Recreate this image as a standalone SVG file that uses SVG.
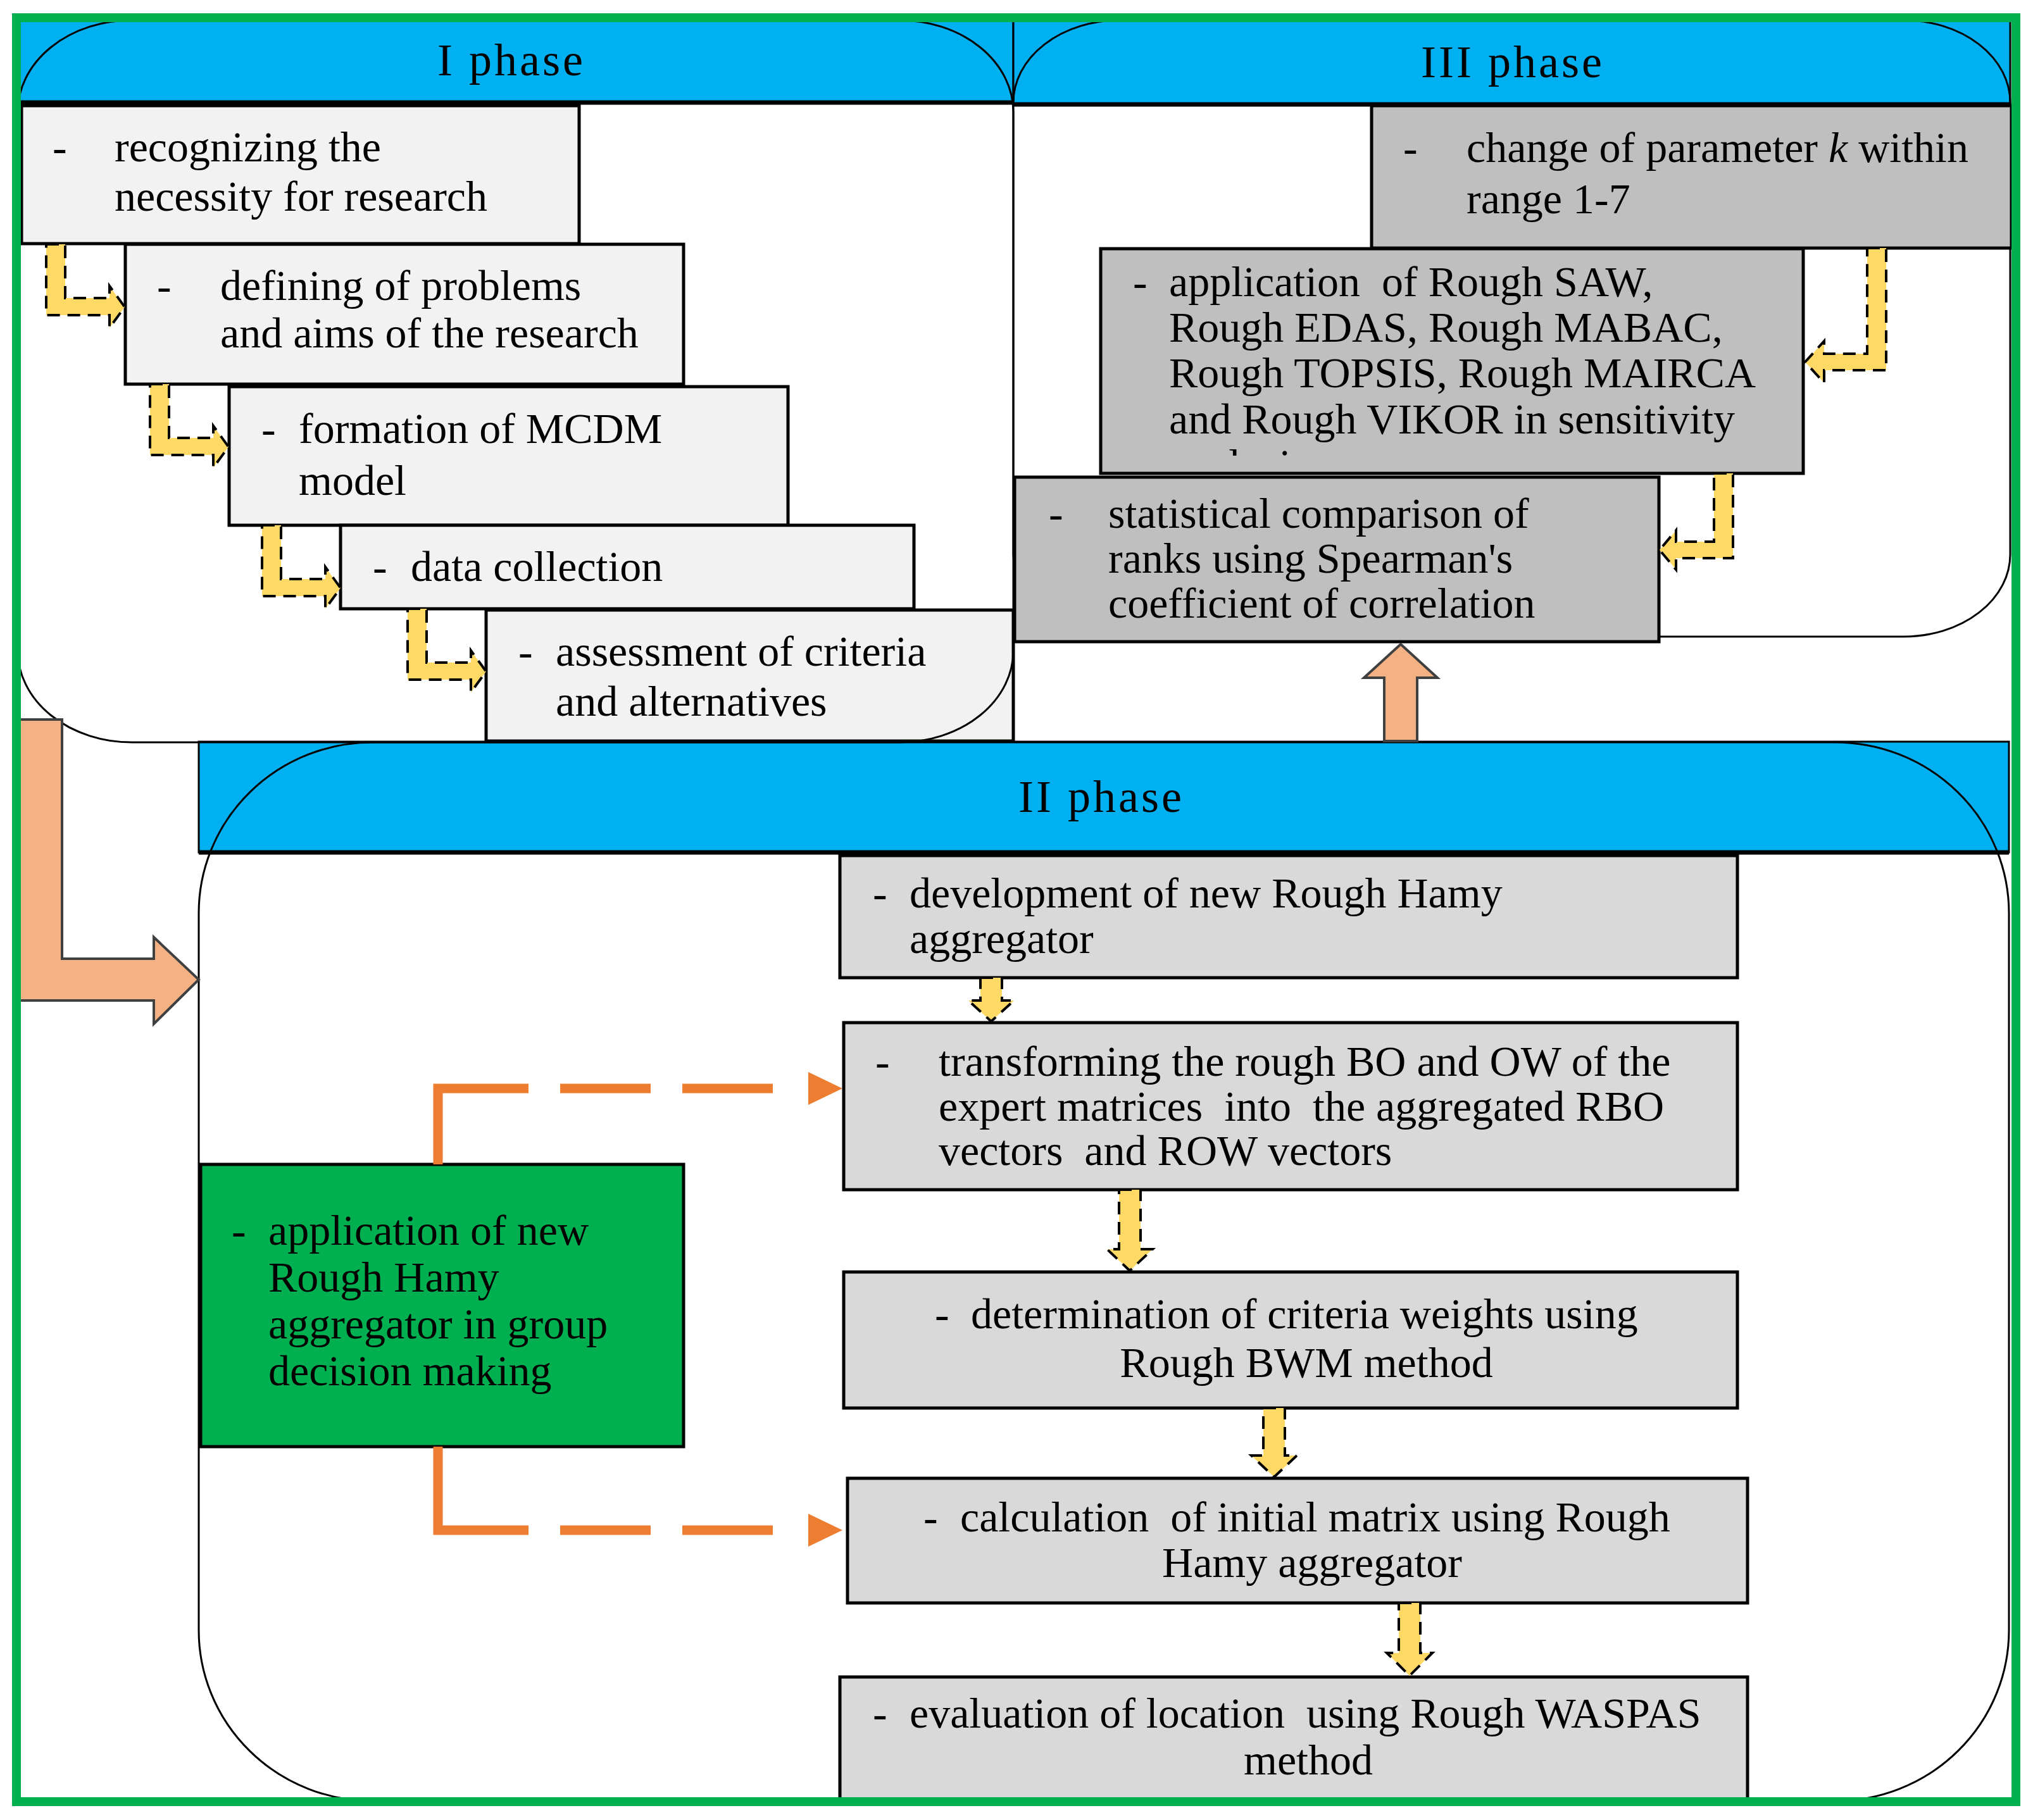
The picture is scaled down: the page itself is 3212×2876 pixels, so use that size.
<svg xmlns="http://www.w3.org/2000/svg" width="3212" height="2876" viewBox="0 0 3212 2876">
<style>
.t{font-family:"Liberation Serif","Times New Roman",serif;font-size:68px;fill:#000}
.h{font-family:"Liberation Serif","Times New Roman",serif;font-size:72px;letter-spacing:4px;fill:#000;text-anchor:middle}
.m{text-anchor:middle}
.hdr{fill:#00b0f0;stroke:#000;stroke-width:3}
.hline{stroke:#000;stroke-width:7}
.cont{fill:none;stroke:#000;stroke-width:3}
.b1{fill:#f2f2f2;stroke:#000;stroke-width:5}
.b3{fill:#bfbfbf;stroke:#000;stroke-width:5}
.b2{fill:#d9d9d9;stroke:#000;stroke-width:5}
.bg{fill:#00b050;stroke:#000;stroke-width:5}
.ya{fill:#ffd966;stroke:#000;stroke-width:4;stroke-dasharray:20 12}
.big{fill:#f4b183;stroke:#404040;stroke-width:4}
.od{fill:none;stroke:#ed7d31;stroke-width:15}
.oh{fill:#ed7d31}
</style>
<defs>
<clipPath id="clipC2"><rect x="1739" y="393" width="1110" height="327"/></clipPath>
</defs>
<rect x="0" y="0" width="3212" height="2876" fill="#fff"/>

<!-- Phase headers -->
<g id="phase1-header">
<rect class="hdr" x="28" y="32" width="1573" height="130"/>
<line class="hline" x1="28" y1="162" x2="1601" y2="162"/>
<text class="h" x="808" y="119">I phase</text>
</g>
<g id="phase3-header">
<rect class="hdr" x="1601" y="32" width="1575" height="133"/>
<line class="hline" x1="1601" y1="165" x2="3176" y2="165"/>
<text class="h" x="2390" y="122">III phase</text>
</g>
<g id="phase2-header">
<rect class="hdr" x="314" y="1172" width="2860" height="175"/>
<line class="hline" x1="314" y1="1347" x2="3174" y2="1347"/>
<text class="h" x="1740" y="1283">II phase</text>
</g>

<g id="phase3-container"><rect class="cont" x="1601" y="32" width="1575" height="974" rx="168" ry="130"/></g>
<g id="phase2-container"><rect class="cont" x="314" y="1173" width="2860" height="1673" rx="275" ry="270"/></g>

<!-- Phase I boxes -->
<g id="p1-box1">
<rect class="b1" x="34" y="167" width="881" height="218"/>
<text class="t" x="83" y="255">-</text>
<text class="t" x="181" y="255">recognizing the</text>
<text class="t" x="181" y="333">necessity for research</text>
</g>
<g id="p1-box2">
<rect class="b1" x="198" y="386" width="882" height="221"/>
<text class="t" x="248" y="474">-</text>
<text class="t" x="348" y="474">defining of problems</text>
<text class="t" x="348" y="549">and aims of the research</text>
</g>
<g id="p1-box3">
<rect class="b1" x="362" y="611" width="883" height="219"/>
<text class="t" x="413" y="700">-</text>
<text class="t" x="472" y="700">formation of MCDM</text>
<text class="t" x="472" y="782">model</text>
</g>
<g id="p1-box4">
<rect class="b1" x="538" y="830" width="906" height="132"/>
<text class="t" x="589" y="918">-</text>
<text class="t" x="649" y="918">data collection</text>
</g>
<g id="p1-box5">
<rect class="b1" x="768" y="964" width="833" height="207"/>
<text class="t" x="819" y="1052">-</text>
<text class="t" x="878" y="1052">assessment of criteria</text>
<text class="t" x="878" y="1131">and alternatives</text>
</g>

<!-- Phase III boxes -->
<g id="p3-box1">
<rect class="b3" x="2167" y="167" width="1011" height="225"/>
<text class="t" x="2217" y="256">-</text>
<text class="t" x="2317" y="256">change of parameter <tspan font-style="italic">k</tspan> within</text>
<text class="t" x="2317" y="337">range 1-7</text>
</g>
<g id="p3-box2">
<rect class="b3" x="1739" y="393" width="1110" height="355"/>
<text class="t" x="1790" y="468">-</text>
<text class="t" x="1847" y="468" xml:space="preserve">application  of Rough SAW,</text>
<text class="t" x="1847" y="540">Rough EDAS, Rough MABAC,</text>
<text class="t" x="1847" y="612">Rough TOPSIS, Rough MAIRCA</text>
<text class="t" x="1847" y="685">and Rough VIKOR in sensitivity</text>
<text class="t" x="1847" y="757" clip-path="url(#clipC2)">analysis</text>
</g>
<g id="p3-box3">
<rect class="b3" x="1603" y="754" width="1018" height="260"/>
<text class="t" x="1657" y="834">-</text>
<text class="t" x="1751" y="834">statistical comparison of</text>
<text class="t" x="1751" y="905">ranks using Spearman's</text>
<text class="t" x="1751" y="976">coefficient of correlation</text>
</g>

<!-- Phase II boxes -->
<g id="p2-box1">
<rect class="b2" x="1327" y="1352" width="1418" height="193"/>
<text class="t" x="1379" y="1434">-</text>
<text class="t" x="1437" y="1434">development of new Rough Hamy</text>
<text class="t" x="1437" y="1506">aggregator</text>
</g>
<g id="p2-box2">
<rect class="b2" x="1333" y="1616" width="1412" height="264"/>
<text class="t" x="1383" y="1700">-</text>
<text class="t" x="1483" y="1700">transforming the rough BO and OW of the</text>
<text class="t" x="1483" y="1771" xml:space="preserve">expert matrices  into  the aggregated RBO</text>
<text class="t" x="1483" y="1841" xml:space="preserve">vectors  and ROW vectors</text>
</g>
<g id="p2-box3">
<rect class="b2" x="1333" y="2010" width="1412" height="215"/>
<text class="t" x="1477" y="2099">-</text>
<text class="t" x="1534" y="2099">determination of criteria weights using</text>
<text class="t m" x="2064" y="2176">Rough BWM method</text>
</g>
<g id="p2-box4">
<rect class="b2" x="1339" y="2336" width="1422" height="197"/>
<text class="t" x="1459" y="2420">-</text>
<text class="t" x="1517" y="2420" xml:space="preserve">calculation  of initial matrix using Rough</text>
<text class="t m" x="2073" y="2492">Hamy aggregator</text>
</g>
<g id="p2-box5">
<rect class="b2" x="1327" y="2650" width="1434" height="197"/>
<text class="t" x="1379" y="2730">-</text>
<text class="t" x="1437" y="2730" xml:space="preserve">evaluation of location  using Rough WASPAS</text>
<text class="t m" x="2067" y="2804">method</text>
</g>
<g id="p2-green">
<rect class="bg" x="317" y="1840" width="763" height="446"/>
<text class="t" x="366" y="1967">-</text>
<text class="t" x="424" y="1967">application of new</text>
<text class="t" x="424" y="2041">Rough Hamy</text>
<text class="t" x="424" y="2115">aggregator in group</text>
<text class="t" x="424" y="2189">decision making</text>
</g>

<g id="phase1-container"><rect class="cont" x="28" y="32" width="1573" height="1141" rx="180" ry="145"/></g>

<!-- Connectors -->
<g id="connectors">
<!-- Phase I elbow arrows -->
<polygon class="ya" points="73,386 103,386 103,471 173,471 173,452 197,485 173,518 173,498 73,498"/>
<polygon class="ya" points="237,607 267,607 267,692 337,692 337,673 361,706 337,739 337,719 237,719"/>
<polygon class="ya" points="414,830 444,830 444,915 514,915 514,896 538,929 514,962 514,942 414,942"/>
<polygon class="ya" points="644,962 674,962 674,1047 744,1047 744,1028 768,1061 744,1094 744,1074 644,1074"/>
<!-- Phase III elbow arrows -->
<polygon class="ya" points="2950,392 2980,392 2980,585 2882,585 2882,605 2852,572 2882,539 2882,559 2950,559"/>
<polygon class="ya" points="2708,748 2738,748 2738,882 2648,882 2648,900 2622,869 2648,838 2648,856 2708,856"/>
<!-- Phase II down arrows -->
<polygon class="ya" points="1549,1545 1583,1545 1583,1581 1602,1581 1566,1614 1530,1581 1549,1581"/>
<polygon class="ya" points="1768,1880 1802,1880 1802,1974 1821,1974 1785,2008 1749,1974 1768,1974"/>
<polygon class="ya" points="1996,2225 2030,2225 2030,2300 2049,2300 2013,2334 1977,2300 1996,2300"/>
<polygon class="ya" points="2210,2533 2244,2533 2244,2612 2263,2612 2227,2648 2191,2612 2210,2612"/>
<!-- Big orange arrows -->
<polygon class="big" points="27,1137 98,1137 98,1515 243,1515 243,1481 314,1548 243,1618 243,1581 27,1581"/>
<polygon class="big" points="2187,1171 2187,1071 2155,1071 2213,1018 2271,1071 2239,1071 2239,1171"/>
<!-- Orange dashed connectors from green box -->
<path class="od" d="M692 1840 V1720 H1277" stroke-dasharray="263 50 143 50 143 56"/>
<polygon class="oh" points="1277,1694 1331,1720 1277,1746"/>
<path class="od" d="M692 2286 V2418 H1277" stroke-dasharray="275 50 143 50 143 56"/>
<polygon class="oh" points="1277,2392 1331,2418 1277,2444"/>
</g>

<g id="frame"><rect x="26" y="28" width="3159" height="2819" fill="none" stroke="#00b050" stroke-width="14"/></g>
</svg>
